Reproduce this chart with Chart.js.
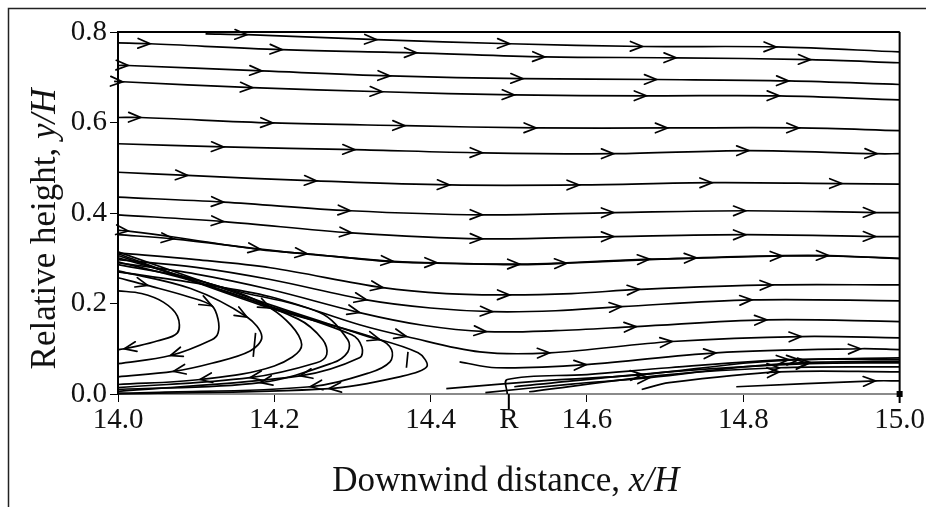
<!DOCTYPE html>
<html>
<head>
<meta charset="utf-8">
<script src="https://cdn.jsdelivr.net/npm/chart.js@4.4.1/dist/chart.umd.min.js"></script>
<style>
  html, body { margin: 0; padding: 0; background: #fff; }
  canvas { display: block; }
</style>
</head>
<body>
<canvas id="c" width="926" height="507"></canvas>
<script>
// ---- axis ticks ----
const xTicks = [14.0, 14.2, 14.4, 14.5, 14.6, 14.8, 15.0];
const xTickLabels = ['14.0', '14.2', '14.4', 'R', '14.6', '14.8', '15.0'];
const yTicks = [0.0, 0.2, 0.4, 0.6, 0.8];
const yTickLabels = ['0.0', '0.2', '0.4', '0.6', '0.8'];
const xTitle = 'Downwind distance, x/H';
const yTitle = 'Relative height, y/H';

// ---- streamlines: [x/H, y/H, arrow-flag] in flow order ----
const sTop = [[14.58, 0.800], [15.0, 0.800]];
const s01 = [[14.112,0.796],[14.165,0.794,1],[14.331,0.783,1],[14.501,0.774,1],[14.671,0.768,1],[14.842,0.767,1],[15.0,0.756]];
const s02 = [[14.0,0.776],[14.041,0.774,1],[14.210,0.761,1],[14.382,0.754,1],[14.546,0.745,1],[14.714,0.743,1],[14.886,0.739,1],[15.0,0.732]];
const s03 = [[14.0,0.726],[14.013,0.726,1],[14.184,0.714,1],[14.348,0.703,1],[14.518,0.697,1],[14.689,0.695,1],[14.858,0.692,1],[15.0,0.684]];
const s04 = [[13.995,0.691],[14.006,0.690,1],[14.172,0.677,1],[14.338,0.668,1],[14.507,0.661,1],[14.676,0.659,1],[14.846,0.659,1],[15.0,0.650]];
const s05 = [[14.0,0.611],[14.029,0.611,1],[14.198,0.599,1],[14.367,0.593,1],[14.535,0.588,1],[14.703,0.588,1],[14.871,0.588,1],[15.0,0.582]];
const s06 = [[14.0,0.553],[14.135,0.546,1],[14.303,0.540,1],[14.466,0.533,1],[14.634,0.531,1],[14.807,0.538,1],[14.971,0.531,1],[15.0,0.531]];
const s07 = [[14.0,0.490],[14.089,0.483,1],[14.254,0.471,1],[14.424,0.462,1],[14.590,0.462,1],[14.760,0.467,1],[14.926,0.465,1],[15.0,0.464]];
const s08 = [[14.0,0.435],[14.135,0.424,1],[14.297,0.405,1],[14.466,0.396,1],[14.634,0.401,1],[14.803,0.405,1],[14.969,0.401,1],[15.0,0.401]];
const s09 = [[14.0,0.396],[14.135,0.381,1],[14.299,0.356,1],[14.466,0.343,1],[14.634,0.348,1],[14.803,0.352,1],[14.969,0.348,1],[15.0,0.348]];
const sA1 = [[14.0,0.362],[14.013,0.360,1],[14.071,0.347],[14.182,0.319],[14.242,0.310,1],[14.352,0.292],[14.408,0.290,1],[14.514,0.286],[14.574,0.289,1],[14.680,0.297],[14.740,0.301,1],[14.850,0.306],[14.909,0.306,1],[15.0,0.299]];
const sA2 = [[14.0,0.352],[14.071,0.343,1],[14.182,0.320,1],[14.242,0.309],[14.352,0.293,1],[14.408,0.289],[14.514,0.287,1],[14.574,0.290],[14.680,0.298,1],[14.740,0.300],[14.850,0.305,1],[14.909,0.305],[15.0,0.300]];
const sB = [[14.0,0.312],[14.1,0.297],[14.195,0.279],[14.339,0.235,1],[14.42,0.222],[14.501,0.219,1],[14.58,0.222],[14.667,0.231,1],[14.837,0.241,1],[15.0,0.241]];
const sC = [[14.0,0.297],[14.1,0.280],[14.195,0.253],[14.318,0.208,1],[14.40,0.190],[14.479,0.182,1],[14.56,0.184],[14.644,0.193,1],[14.811,0.208,1],[15.0,0.206]];
const sD = [[14.0,0.290],[14.1,0.265],[14.195,0.231],[14.309,0.180,1],[14.39,0.152],[14.471,0.138,1],[14.56,0.140],[14.663,0.149,1],[14.830,0.164,1],[15.0,0.160]];
const sE = [[14.0,0.270],[14.1,0.245],[14.195,0.215],[14.309,0.153],[14.369,0.127,1],[14.463,0.093],[14.552,0.091,1],[14.709,0.116,1],[14.874,0.127,1],[15.0,0.124]];
const sF = [[14.437,0.071],[14.484,0.058],[14.599,0.065,1],[14.765,0.091,1],[14.950,0.100,1],[15.0,0.098]];
const sG = [[14.498,0.0],[14.498,0.032],[14.6,0.043],[14.705,0.058],[14.858,0.076,1],[15.0,0.076]];
const sH = [[14.507,0.016],[14.705,0.049],[14.883,0.067,1],[15.0,0.069]];
const sI = [[14.526,0.005],[14.705,0.043],[14.846,0.058,1],[15.0,0.060]];
const sJ = [[14.67,0.010],[14.705,0.025],[14.846,0.049,1],[15.0,0.049]];
const sK = [[14.791,0.016],[14.969,0.029,1],[15.0,0.029]];
const sL1 = [[14.42,0.012],[14.55,0.030],[14.671,0.043,1],[14.80,0.068],[14.871,0.076,1],[15.0,0.080]];
const sL2 = [[14.47,0.003],[14.58,0.022],[14.68,0.036,1],[14.80,0.060],[14.885,0.070,1],[15.0,0.072]];
// recirculation bubble (flow goes right on top, returns left near the floor)
const c1 = [[14.0,0.228],[14.03,0.222],[14.058,0.203],[14.076,0.172],[14.076,0.135],[14.05,0.117],[14.02,0.104],[14.008,0.100,1],[14.0,0.098]];
const c2 = [[14.0,0.257],[14.038,0.240,1],[14.09,0.215],[14.12,0.195,1],[14.128,0.165],[14.128,0.135],[14.12,0.12],[14.067,0.085,1],[14.0,0.067]];
const c3 = [[14.0,0.272],[14.093,0.233],[14.165,0.170,1],[14.184,0.127],[14.169,0.095],[14.12,0.068],[14.071,0.050,1],[14.0,0.038]];
const c3b = [[14.176,0.135],[14.173,0.082]];
const c4 = [[14.0,0.286],[14.105,0.250],[14.195,0.190,1],[14.235,0.109],[14.20,0.062],[14.105,0.032,1],[14.0,0.021]];
const c5 = [[14.0,0.292],[14.105,0.245],[14.23,0.166],[14.262,0.120],[14.267,0.087],[14.254,0.069],[14.169,0.036,1],[14.0,0.014]];
const c6 = [[14.0,0.301],[14.144,0.231],[14.258,0.180],[14.294,0.120],[14.294,0.093],[14.275,0.069],[14.182,0.025,1],[14.0,0.010]];
const c7 = [[14.0,0.306],[14.169,0.208],[14.299,0.131],[14.312,0.104],[14.309,0.080],[14.233,0.040,1],[14.0,0.006]];
const c8 = [[14.0,0.310],[14.182,0.197],[14.335,0.120,1],[14.350,0.098],[14.348,0.071],[14.322,0.047],[14.246,0.016,1],[14.04,0.003],[14.0,0.002]];
const c9 = [[14.0,0.314],[14.195,0.197],[14.309,0.133],[14.384,0.091],[14.395,0.060],[14.36,0.038],[14.27,0.012,1],[14.0,0.0]];
const c9b = [[14.371,0.093],[14.369,0.058]];

const streamlines = [sTop, s01, s02, s03, s04, s05, s06, s07, s08, s09, sA1, sA2, sB, sC, sD, sE, sF,
  sG, sH, sI, sJ, sK, sL1, sL2, c1, c2, c3, c3b, c4, c5, c6, c7, c8, c9, c9b];

const SERIF = '"Liberation Serif", "Times New Roman", serif';

const datasets = streamlines.map(sl => ({
  data: sl.map(p => ({ x: p[0], y: p[1] })),
  arrows: sl.map(p => p[2] === 1),
  borderColor: '#000',
  borderWidth: 1.7,
  pointRadius: 0,
  tension: 0.35,
  fill: false,
  clip: 10
}));

// draws "plain part, " upright and the variable part (after the last ", ") in italic
function drawTitle(ctx, text, size) {
  const k = text.lastIndexOf(', ');
  const plain = text.slice(0, k + 2);
  const ital = text.slice(k + 2);
  const fUp = size + 'px ' + SERIF;
  const fIt = 'italic ' + size + 'px ' + SERIF;
  ctx.font = fUp; const w1 = ctx.measureText(plain).width;
  ctx.font = fIt; const w2 = ctx.measureText(ital).width;
  const x0 = -(w1 + w2) / 2;
  ctx.textBaseline = 'middle';
  ctx.textAlign = 'left';
  ctx.font = fUp; ctx.fillText(plain, x0, 0);
  ctx.font = fIt; ctx.fillText(ital, x0 + w1, 0);
}

const decor = {
  id: 'decor',
  beforeDraw(chart) {
    const ctx = chart.ctx;
    ctx.save();
    ctx.fillStyle = '#fff';
    ctx.fillRect(0, 0, chart.width, chart.height);
    ctx.strokeStyle = '#222';
    ctx.lineWidth = 1.5;
    ctx.beginPath();
    ctx.moveTo(8.5, chart.height);
    ctx.lineTo(8.5, 8.5);
    ctx.lineTo(chart.width, 8.5);
    ctx.stroke();
    ctx.restore();
  },
  afterDatasetsDraw(chart) {
    const ctx = chart.ctx;
    ctx.save();
    ctx.strokeStyle = '#000';
    ctx.lineWidth = 1.7;
    ctx.lineCap = 'round';
    chart.data.datasets.forEach((ds, i) => {
      const pts = chart.getDatasetMeta(i).data;
      ds.arrows.forEach((on, j) => {
        if (!on) return;
        const p = pts[j];
        const a = pts[j - 1] || p;
        const b = pts[j + 1] || p;
        let dx = (p.x - a.x) + (b.x - p.x) * 0.3;
        let dy = (p.y - a.y) + (b.y - p.y) * 0.3;
        if (j === 0) { dx = b.x - p.x; dy = b.y - p.y; }
        const ang = Math.atan2(dy, dx);
        const L = 13, h = 0.38;
        ctx.beginPath();
        ctx.moveTo(p.x - L * Math.cos(ang - h), p.y - L * Math.sin(ang - h));
        ctx.lineTo(p.x, p.y);
        ctx.lineTo(p.x - L * Math.cos(ang + h), p.y - L * Math.sin(ang + h));
        ctx.stroke();
      });
    });
    ctx.restore();
  },
  afterDraw(chart) {
    const ctx = chart.ctx;
    const a = chart.chartArea;
    const xs = chart.scales.x;
    ctx.save();
    ctx.strokeStyle = '#000';
    ctx.lineWidth = 2;
    ctx.beginPath();
    ctx.moveTo(a.left, a.top);
    ctx.lineTo(a.right, a.top);
    ctx.moveTo(a.right, a.top);
    ctx.lineTo(a.right, a.bottom + 9);
    ctx.stroke();
    // R marker tick
    const rx = xs.getPixelForValue(14.5);
    ctx.beginPath();
    ctx.moveTo(rx, a.bottom);
    ctx.lineTo(rx, a.bottom + 15);
    ctx.stroke();
    ctx.fillStyle = '#000';
    ctx.fillRect(a.right - 3, a.bottom - 3, 6, 6);
    // axis titles
    ctx.fillStyle = '#111';
    ctx.save();
    ctx.translate((a.left + a.right) / 2 - 3, 482);
    drawTitle(ctx, xTitle, 35);
    ctx.restore();
    ctx.save();
    ctx.translate(46, 229);
    ctx.rotate(-Math.PI / 2);
    drawTitle(ctx, yTitle, 35);
    ctx.restore();
    ctx.restore();
  }
};

new Chart(document.getElementById('c'), {
  type: 'line',
  data: { datasets },
  options: {
    responsive: false,
    animation: false,
    devicePixelRatio: 1,
    layout: { padding: { left: 0, top: 32, right: 23, bottom: 0 } },
    plugins: { legend: { display: false }, tooltip: { enabled: false } },
    scales: {
      x: {
        type: 'linear', min: 14.0, max: 15.0,
        afterBuildTicks: s => { s.ticks = xTicks.map(v => ({ value: v })); },
        afterFit: s => { s.height = 113; },
        ticks: {
          autoSkip: false, maxRotation: 0, padding: 1, color: '#111',
          font: { family: SERIF, size: 29 },
          callback: (v, i) => xTickLabels[i]
        },
        grid: { drawOnChartArea: false, tickLength: 8, color: '#000', lineWidth: 1 },
        border: { color: '#8a8a8a', width: 2 },
        title: { display: false, text: xTitle }
      },
      y: {
        type: 'linear', min: 0, max: 0.8,
        afterBuildTicks: s => { s.ticks = yTicks.map(v => ({ value: v })); },
        afterFit: s => { s.width = 118; },
        ticks: {
          padding: 3, color: '#111',
          font: { family: SERIF, size: 29 },
          callback: (v, i) => yTickLabels[i]
        },
        grid: { drawOnChartArea: false, tickLength: 8, color: '#000', lineWidth: 1 },
        border: { color: '#000', width: 2 },
        title: { display: false, text: yTitle }
      }
    }
  },
  plugins: [decor]
});
</script>
</body>
</html>
